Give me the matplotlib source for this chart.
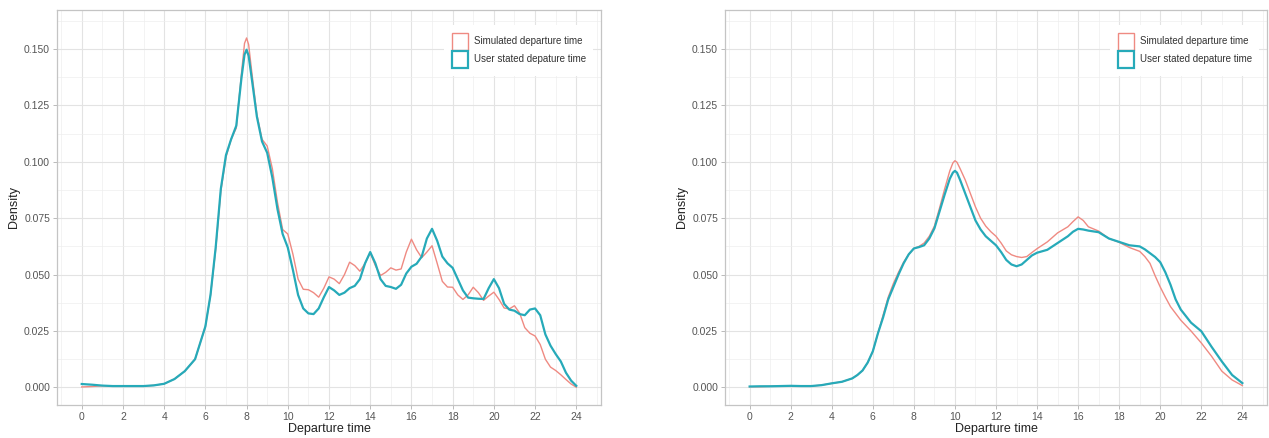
import matplotlib

matplotlib.use("Agg")
import matplotlib.pyplot as plt
import matplotlib.patches as mpatches
from matplotlib.ticker import MultipleLocator

plt.rcParams["font.family"] = ["Liberation Sans", "DejaVu Sans"]

# left panel: hours and densities
left_hours = [0, 0.5, 1, 1.5, 2, 2.5, 3, 3.5, 4, 4.5, 5, 5.5, 6, 6.25, 6.5, 6.75,
              7, 7.25, 7.5, 7.75, 7.9, 8, 8.1, 8.25, 8.5, 8.75, 9, 9.25, 9.5, 9.75,
              10, 10.25, 10.5, 10.75, 11, 11.25, 11.5, 11.75, 12, 12.25, 12.5, 12.75,
              13, 13.25, 13.5, 13.75, 14, 14.25, 14.5, 14.75, 15, 15.25, 15.5, 15.75,
              16, 16.25, 16.5, 16.75, 17, 17.25, 17.5, 17.75, 18, 18.25, 18.5, 18.75,
              19, 19.25, 19.5, 19.75, 20, 20.25, 20.5, 20.75, 21, 21.25, 21.5, 21.75,
              22, 22.25, 22.5, 22.75, 23, 23.25, 23.5, 23.75, 24]
left_user = [0.0015, 0.0012, 0.0008, 0.0006, 0.0006, 0.0006, 0.0006, 0.0009, 0.0016, 0.0037,
             0.0072, 0.0125, 0.027, 0.041, 0.062, 0.088,
             0.103, 0.110, 0.116, 0.137, 0.1475, 0.1497, 0.147, 0.137, 0.120, 0.109, 0.104, 0.093,
             0.079, 0.068,
             0.062, 0.052, 0.041, 0.035, 0.0328, 0.0325, 0.035, 0.040, 0.0445, 0.043, 0.041, 0.042,
             0.044, 0.045, 0.048, 0.055, 0.060, 0.055, 0.048, 0.045, 0.0445, 0.0437, 0.0455, 0.0505,
             0.0535, 0.0548, 0.058, 0.066, 0.0703, 0.065, 0.058, 0.055, 0.053, 0.048, 0.043, 0.0398,
             0.0395, 0.0393, 0.0392, 0.044, 0.048, 0.044, 0.037, 0.0345, 0.034, 0.0325, 0.032, 0.0345,
             0.035, 0.032, 0.0235, 0.0185, 0.0148, 0.0115, 0.0065, 0.003, 0.0007]
left_sim = [0.0002, 0.0004, 0.0007, 0.0006, 0.0006, 0.0006, 0.0006, 0.0009, 0.0016, 0.0037,
            0.0072, 0.0125, 0.027, 0.041, 0.061, 0.087,
            0.102, 0.110, 0.115, 0.139, 0.1525, 0.1549, 0.152, 0.140, 0.121, 0.110, 0.107, 0.097,
            0.082, 0.070,
            0.068, 0.059, 0.048, 0.0435, 0.0433, 0.042, 0.040, 0.044, 0.049, 0.048, 0.046, 0.050,
            0.0555, 0.054, 0.0515, 0.055, 0.0597, 0.054, 0.0496, 0.051, 0.053, 0.052, 0.0525, 0.060,
            0.0657, 0.061, 0.0575, 0.060, 0.0628, 0.055, 0.047, 0.0445, 0.0444, 0.041, 0.039, 0.041,
            0.0444, 0.042, 0.0386, 0.0405, 0.0422, 0.039, 0.0352, 0.0348, 0.0362, 0.033, 0.0265, 0.024,
            0.0228, 0.019, 0.0125, 0.009, 0.0075, 0.0056, 0.0035, 0.0015, 0.0001]

# right panel
right_hours = [0, 0.5, 1, 1.5, 2, 2.5, 3, 3.5, 4, 4.5, 5, 5.25, 5.5, 5.75, 6, 6.25, 6.5, 6.75,
               7, 7.25, 7.5, 7.75, 8, 8.25, 8.5, 8.75, 9, 9.25, 9.5, 9.75, 9.9,
               10, 10.1, 10.25, 10.5, 10.75, 11, 11.25, 11.5, 11.75, 12, 12.25, 12.5, 12.75,
               13, 13.25, 13.5, 13.75, 14, 14.5, 15, 15.5, 15.75, 16, 16.25, 16.5, 17, 17.5,
               18, 18.5, 19, 19.25, 19.5, 19.75, 20, 20.25, 20.5, 20.75, 21, 21.5, 22, 22.5,
               23, 23.5, 24]
right_user = [0.0004, 0.0005, 0.0005, 0.0006, 0.0007, 0.0006, 0.0006, 0.001, 0.0018, 0.0025,
              0.004, 0.0055, 0.0075, 0.011, 0.016, 0.024, 0.031, 0.039,
              0.0445, 0.050, 0.055, 0.059, 0.0616, 0.0622, 0.063, 0.066, 0.0705, 0.078, 0.0855,
              0.0925, 0.0952,
              0.096, 0.0952, 0.092, 0.086, 0.080, 0.074, 0.070, 0.067, 0.065, 0.063, 0.060, 0.0565,
              0.0545,
              0.0537, 0.0545, 0.0565, 0.0585, 0.0597, 0.061, 0.064, 0.067, 0.069, 0.0703, 0.0700,
              0.0695, 0.0688, 0.066, 0.0645, 0.063, 0.0625, 0.0612, 0.0595, 0.0578, 0.0555, 0.051,
              0.0455, 0.039, 0.0345, 0.0287, 0.0249, 0.018, 0.0115, 0.0055, 0.0019]
right_sim = [0.0003, 0.0003, 0.0005, 0.0006, 0.0007, 0.0006, 0.0006, 0.001, 0.0018, 0.0025,
             0.004, 0.0055, 0.0075, 0.011, 0.016, 0.024, 0.032, 0.040,
             0.046, 0.051, 0.0555, 0.059, 0.0616, 0.0625, 0.064, 0.067, 0.0715, 0.0795, 0.088,
             0.096, 0.0995,
             0.1005, 0.0998, 0.097, 0.092, 0.086, 0.080, 0.075, 0.0715, 0.069, 0.067, 0.064, 0.0605,
             0.0588,
             0.058, 0.0576, 0.058, 0.0598, 0.0615, 0.0645, 0.0685, 0.0712, 0.0735, 0.0756, 0.074,
             0.0712, 0.0693, 0.066, 0.0643, 0.062, 0.0603, 0.058, 0.055, 0.0495, 0.0445, 0.040,
             0.0358, 0.0328, 0.0298, 0.025, 0.0197, 0.0138, 0.0072, 0.0033, 0.0008]

x_ticks = list(range(0, 25, 2))
y_ticks = [0.000, 0.025, 0.050, 0.075, 0.100, 0.125, 0.150]
labels = ["Simulated departure time", "User stated depature time"]
sim_color = "#ef8a82"
user_color = "#26aab9"

fig = plt.figure(figsize=(12.69, 4.38), dpi=100)
panels = [
    (fig.add_axes([57 / 1269, 33 / 438, 544 / 1269, 395 / 438]), left_hours, left_sim, left_user),
    (fig.add_axes([725 / 1269, 33 / 438, 542 / 1269, 395 / 438]), right_hours, right_sim, right_user),
]

for ax, hours, sim, user in panels:
    ax.plot(hours, sim, color=sim_color, lw=1.0, zorder=3)
    ax.plot(hours, user, color=user_color, lw=1.6, zorder=4)
    ax.set_xlim(-1.2, 25.2)
    ax.set_ylim(-0.0078, 0.1673)
    ax.set_xticks(x_ticks)
    ax.set_yticks(y_ticks)
    ax.set_yticklabels([f"{v:.3f}" for v in y_ticks])
    ax.xaxis.set_minor_locator(MultipleLocator(1))
    ax.yaxis.set_minor_locator(MultipleLocator(0.0125))
    ax.grid(which="major", color="#e3e3e3", lw=0.8)
    ax.grid(which="minor", color="#eeeeee", lw=0.5)
    ax.set_axisbelow(True)
    for sp in ax.spines.values():
        sp.set_color("#c4c4c4")
        sp.set_linewidth(0.9)
    ax.tick_params(which="major", length=3, width=0.6, color="#b0b0b0",
                   labelsize=7.5, labelcolor="#555555", pad=2)
    ax.tick_params(which="minor", length=0)
    ax.set_xlabel("Departure time", fontsize=9, color="#222222", labelpad=1)
    ax.set_ylabel("Density", fontsize=9, color="#222222", labelpad=3)
    handles = [mpatches.Patch(facecolor="white", edgecolor=sim_color, lw=1.0),
               mpatches.Patch(facecolor="white", edgecolor=user_color, lw=1.6)]
    leg = ax.legend(handles, labels, loc="upper right", bbox_to_anchor=(0.995, 0.975),
                    fontsize=7, frameon=True, handlelength=1.6, handleheight=2.4,
                    handletextpad=0.6, labelspacing=0.05, borderpad=0.8)
    leg.get_frame().set_facecolor("white")
    leg.get_frame().set_edgecolor("none")
    leg.get_frame().set_alpha(1)
    leg.get_frame().set_boxstyle("square", pad=0)
    for t in leg.get_texts():
        t.set_color("#333333")

fig.savefig("out.png", dpi=100)
